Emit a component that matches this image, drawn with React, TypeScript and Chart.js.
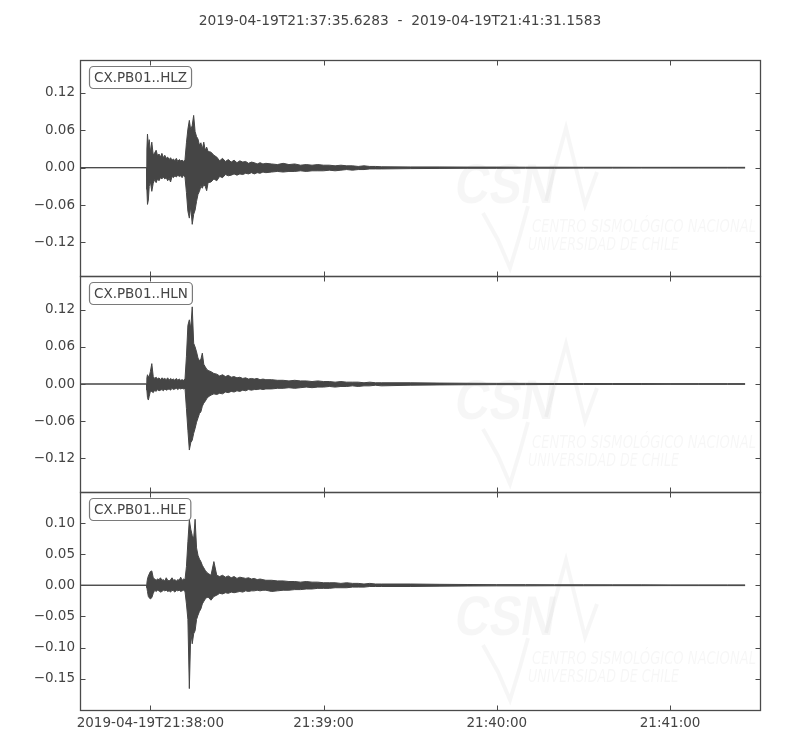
import React, { useEffect, useRef } from 'react';
import { Chart, registerables } from 'chart.js';

Chart.register(...registerables);

// ---------------- data ----------------
const TITLE = '2019-04-19T21:37:35.6283  -  2019-04-19T21:41:31.1583';
const CHANNELS = ['CX.PB01..HLZ', 'CX.PB01..HLN', 'CX.PB01..HLE'];

// time axis, seconds relative to 2019-04-19T21:38:00
const X_MIN = -24.37;
const X_MAX = 211.16;
const X_TICKS = [0, 60, 120, 180];
const X_TICK_LABELS = ['2019-04-19T21:38:00', '21:39:00', '21:40:00', '21:41:00'];

const Y_RANGE_Z = [-0.174, 0.173];
const Y_RANGE_N = [-0.175, 0.175];
const Y_RANGE_E = [-0.2004, 0.1498];
const Y_TICKS_Z = [-0.12, -0.06, 0, 0.06, 0.12];
const Y_TICKS_N = [-0.12, -0.06, 0, 0.06, 0.12];
const Y_TICKS_E = [-0.15, -0.1, -0.05, 0, 0.05, 0.1];

// envelope sample times (s after 21:38:00)
const T = [
  -24.37, -1.3, -1.2, -1.0, -0.7, -0.4,
  0, 0.5, 1, 1.5, 2, 2.5, 3, 3.5, 4, 4.5, 5, 5.5, 6, 6.5, 7, 7.5, 8, 8.5, 9, 9.5, 10, 10.5, 11, 11.5, 12,
  12.5, 13, 13.5, 14, 14.5, 15, 15.5, 16, 16.5, 17, 17.5, 18, 18.5, 19, 19.5, 20,
  21, 22, 23, 24, 25, 26, 27, 28, 29, 30, 31, 32, 33, 34, 35, 36, 37, 38, 39, 40,
  42, 44, 46, 48, 50, 52, 54, 56, 58, 60, 62, 64, 66, 68, 70, 72, 74, 76, 78, 80,
  90, 100, 110, 120, 130, 140, 150, 160, 170, 180, 190, 200,
  206,
];

// HLZ envelope (max / min)
const Z_HI = [
  0, 0, 0.030, 0.054, 0.035, 0.045,
  0.025, 0.041, 0.020, 0.024, 0.028, 0.019, 0.022, 0.017, 0.023, 0.016, 0.020, 0.015, 0.017, 0.013, 0.016, 0.012, 0.014, 0.011, 0.015, 0.010, 0.013, 0.011, 0.012, 0.010, 0.013,
  0.040, 0.062, 0.076, 0.060, 0.068, 0.084, 0.058, 0.050, 0.046, 0.036, 0.040, 0.030, 0.041, 0.028, 0.033, 0.026,
  0.025, 0.020, 0.017, 0.011, 0.015, 0.010, 0.013, 0.009, 0.012, 0.008, 0.011, 0.009, 0.010, 0.007, 0.009, 0.008, 0.006, 0.008, 0.006, 0.007,
  0.006, 0.005, 0.007, 0.005, 0.006, 0.004, 0.005, 0.004, 0.005, 0.004, 0.004, 0.003, 0.004, 0.003, 0.003, 0.002, 0.003, 0.002, 0.002, 0.0015,
  0.0012, 0.0012, 0.001, 0.001, 0.0008, 0.0008, 0.0007, 0.0007, 0.0006, 0.0006, 0.0006, 0.0006,
  0.0006,
];
const Z_LO = [
  0, 0, -0.035, -0.059, -0.052, -0.030,
  -0.022, -0.038, -0.025, -0.019, -0.024, -0.018, -0.021, -0.016, -0.018, -0.015, -0.018, -0.016, -0.021, -0.017, -0.023, -0.014, -0.016, -0.013, -0.015, -0.012, -0.014, -0.013, -0.016, -0.012, -0.015,
  -0.040, -0.070, -0.081, -0.062, -0.091, -0.075, -0.068, -0.054, -0.043, -0.038, -0.030, -0.033, -0.027, -0.030, -0.037, -0.024,
  -0.023, -0.018, -0.021, -0.014, -0.016, -0.011, -0.013, -0.012, -0.010, -0.012, -0.010, -0.011, -0.009, -0.010, -0.008, -0.010, -0.008, -0.009, -0.007, -0.008,
  -0.007, -0.006, -0.007, -0.006, -0.006, -0.005, -0.006, -0.005, -0.005, -0.005, -0.004, -0.005, -0.004, -0.003, -0.004, -0.003, -0.003, -0.002, -0.002, -0.002,
  -0.0015, -0.0012, -0.001, -0.001, -0.0008, -0.0008, -0.0007, -0.0007, -0.0006, -0.0006, -0.0006, -0.0006,
  -0.0006,
];

// HLN envelope
const N_HI = [
  0, 0, 0.010, 0.015, 0.012, 0.012,
  0.020, 0.033, 0.012, 0.009, 0.011, 0.008, 0.010, 0.007, 0.010, 0.008, 0.009, 0.007, 0.010, 0.006, 0.009, 0.007, 0.008, 0.006, 0.009, 0.006, 0.008, 0.006, 0.007, 0.006, 0.008,
  0.045, 0.095, 0.104, 0.090, 0.125, 0.066, 0.060, 0.052, 0.042, 0.038, 0.040, 0.050, 0.032, 0.028, 0.024, 0.022,
  0.020, 0.017, 0.016, 0.013, 0.015, 0.012, 0.014, 0.011, 0.012, 0.010, 0.011, 0.009, 0.010, 0.008, 0.009, 0.008, 0.009, 0.007, 0.008, 0.007,
  0.007, 0.006, 0.006, 0.005, 0.006, 0.005, 0.005, 0.004, 0.005, 0.004, 0.004, 0.003, 0.004, 0.003, 0.003, 0.003, 0.002, 0.003, 0.002, 0.002,
  0.002, 0.0015, 0.0012, 0.001, 0.001, 0.0008, 0.0008, 0.0007, 0.0007, 0.0006, 0.0006, 0.0006,
  0.0006,
];
const N_LO = [
  0, 0, -0.010, -0.022, -0.026, -0.020,
  -0.012, -0.012, -0.014, -0.010, -0.012, -0.009, -0.011, -0.010, -0.009, -0.011, -0.008, -0.010, -0.009, -0.008, -0.010, -0.007, -0.009, -0.008, -0.007, -0.009, -0.007, -0.008, -0.007, -0.008, -0.007,
  -0.040, -0.075, -0.107, -0.095, -0.091, -0.080, -0.072, -0.062, -0.055, -0.048, -0.045, -0.036, -0.031, -0.028, -0.024, -0.021,
  -0.018, -0.016, -0.017, -0.015, -0.016, -0.013, -0.014, -0.012, -0.013, -0.011, -0.012, -0.010, -0.011, -0.009, -0.010, -0.009, -0.009, -0.008, -0.009, -0.008,
  -0.008, -0.007, -0.007, -0.006, -0.007, -0.006, -0.005, -0.006, -0.005, -0.005, -0.004, -0.005, -0.004, -0.004, -0.003, -0.004, -0.003, -0.003, -0.002, -0.003,
  -0.002, -0.0015, -0.0012, -0.001, -0.001, -0.0008, -0.0008, -0.0007, -0.0007, -0.0006, -0.0006, -0.0006,
  -0.0006,
];

// HLE envelope
const E_HI = [
  0, 0, 0.004, 0.010, 0.015, 0.018,
  0.022, 0.023, 0.012, 0.010, 0.008, 0.010, 0.009, 0.012, 0.008, 0.009, 0.007, 0.012, 0.008, 0.007, 0.009, 0.012, 0.008, 0.009, 0.007, 0.009, 0.008, 0.013, 0.008, 0.010, 0.009,
  0.030, 0.070, 0.105, 0.090, 0.080, 0.075, 0.106, 0.060, 0.048, 0.042, 0.038, 0.032, 0.028, 0.024, 0.021, 0.019,
  0.016, 0.038, 0.016, 0.014, 0.016, 0.013, 0.015, 0.012, 0.014, 0.011, 0.013, 0.012, 0.011, 0.012, 0.010, 0.011, 0.009, 0.010, 0.009, 0.008,
  0.008, 0.007, 0.007, 0.006, 0.006, 0.005, 0.006, 0.005, 0.005, 0.004, 0.004, 0.004, 0.003, 0.004, 0.003, 0.003, 0.002, 0.003, 0.002, 0.002,
  0.002, 0.0015, 0.0012, 0.001, 0.001, 0.0008, 0.0008, 0.0007, 0.0007, 0.0006, 0.0006, 0.0006,
  0.0006,
];
const E_LO = [
  0, 0, -0.004, -0.010, -0.018, -0.020,
  -0.022, -0.020, -0.013, -0.008, -0.010, -0.008, -0.009, -0.011, -0.010, -0.008, -0.009, -0.008, -0.010, -0.009, -0.011, -0.008, -0.009, -0.011, -0.008, -0.009, -0.008, -0.010, -0.009, -0.008, -0.010,
  -0.030, -0.055, -0.166, -0.075, -0.094, -0.078, -0.073, -0.055, -0.048, -0.042, -0.038, -0.030, -0.026, -0.022, -0.020, -0.019,
  -0.024, -0.018, -0.016, -0.013, -0.014, -0.012, -0.013, -0.011, -0.012, -0.011, -0.010, -0.011, -0.009, -0.010, -0.009, -0.009, -0.008, -0.009, -0.008, -0.008,
  -0.010, -0.009, -0.008, -0.008, -0.007, -0.007, -0.006, -0.006, -0.005, -0.005, -0.005, -0.004, -0.004, -0.004, -0.003, -0.003, -0.003, -0.002, -0.002, -0.002,
  -0.002, -0.0015, -0.0012, -0.001, -0.001, -0.0008, -0.0008, -0.0007, -0.0007, -0.0006, -0.0006, -0.0006,
  -0.0006,
];

// ---------------- styling ----------------
const WAVE = '#454545';
const FRAME = '#4a4a4a';
const TEXT = '#444444';
const FONT_FAMILY = 'DejaVu Sans';

const fmtY = (v: number) => (v < 0 ? '\u2212' : '') + Math.abs(v).toFixed(2);

type PanelDef = {
  hi: number[];
  lo: number[];
  yRange: number[];
  yTicks: number[];
  label: string;
  top: number;
  height: number;
  padTop: number;
  padBottom: number;
  isFirst: boolean;
  isLast: boolean;
};

const PANELS: PanelDef[] = [
  { hi: Z_HI, lo: Z_LO, yRange: Y_RANGE_Z, yTicks: Y_TICKS_Z, label: CHANNELS[0], top: 0, height: 280, padTop: 60, padBottom: 4, isFirst: true, isLast: false },
  { hi: N_HI, lo: N_LO, yRange: Y_RANGE_N, yTicks: Y_TICKS_N, label: CHANNELS[1], top: 270, height: 230, padTop: 6, padBottom: 8, isFirst: false, isLast: false },
  { hi: E_HI, lo: E_LO, yRange: Y_RANGE_E, yTicks: Y_TICKS_E, label: CHANNELS[2], top: 486, height: 264, padTop: 6, padBottom: 0, isFirst: false, isLast: true },
];

function decorPlugin(p: PanelDef) {
  return {
    id: 'seisDecor',
    beforeDatasetsDraw(chart: any) {
      const { ctx, chartArea: a } = chart;
      const L = a.left;
      const Tp = a.top;
      ctx.save();
      ctx.beginPath();
      ctx.rect(a.left, a.top, a.right - a.left, a.bottom - a.top);
      ctx.clip();
      const wm = 'rgba(0,0,0,0.035)';
      ctx.fillStyle = wm;
      ctx.strokeStyle = wm;
      // CSN watermark
      ctx.save();
      ctx.translate(L + 373, Tp + 143);
      ctx.transform(0.85, 0, -0.15, 1, 0, 0);
      ctx.font = 'bold 56px "Liberation Sans"';
      ctx.textBaseline = 'alphabetic';
      ctx.fillText('CSN', 0, 0);
      ctx.restore();
      ctx.lineWidth = 4;
      ctx.lineJoin = 'miter';
      ctx.beginPath();
      ctx.moveTo(L + 466, Tp + 141);
      ctx.lineTo(L + 486, Tp + 68);
      ctx.lineTo(L + 505, Tp + 145);
      ctx.lineTo(L + 517, Tp + 112);
      ctx.stroke();
      ctx.beginPath();
      ctx.moveTo(L + 403, Tp + 153);
      ctx.lineTo(L + 418, Tp + 180);
      ctx.lineTo(L + 430, Tp + 208);
      ctx.lineTo(L + 440, Tp + 175);
      ctx.lineTo(L + 448, Tp + 146);
      ctx.stroke();
      ctx.font = 'italic 17px "DejaVu Sans"';
      ctx.fillText('CENTRO SISMOLÓGICO NACIONAL', L + 452, Tp + 172, 224);
      ctx.fillText('UNIVERSIDAD DE CHILE', L + 448, Tp + 190, 151);
      ctx.restore();
    },
    afterDraw(chart: any) {
      const { ctx, chartArea: a } = chart;
      const xs = chart.scales.x;
      const ys = chart.scales.y;
      ctx.save();
      const l = Math.round(a.left) + 0.5;
      const r = Math.round(a.right) + 0.5;
      const t = Math.round(a.top) + 0.5;
      const b = Math.round(a.bottom) + 0.5;
      ctx.strokeStyle = FRAME;
      ctx.lineWidth = 1;
      // inward ticks
      const TL = 5;
      ctx.beginPath();
      X_TICKS.forEach((v) => {
        const px = Math.round(xs.getPixelForValue(v)) + 0.5;
        ctx.moveTo(px, t);
        ctx.lineTo(px, t + TL);
        ctx.moveTo(px, b);
        ctx.lineTo(px, b - TL);
      });
      p.yTicks.forEach((v) => {
        const py = Math.round(ys.getPixelForValue(v)) + 0.5;
        ctx.moveTo(l, py);
        ctx.lineTo(l + TL, py);
        ctx.moveTo(r, py);
        ctx.lineTo(r - TL, py);
      });
      ctx.stroke();
      // frame
      ctx.lineWidth = 1.3;
      ctx.strokeRect(l, t, r - l, b - t);
      // channel label box
      ctx.font = `13.5px "${FONT_FAMILY}"`;
      const tw = ctx.measureText(p.label).width;
      const bx = Math.round(a.left) + 9.5;
      const by = Math.round(a.top) + 6.5;
      ctx.beginPath();
      ctx.roundRect(bx, by, tw + 9, 22, 4);
      ctx.fillStyle = '#ffffff';
      ctx.fill();
      ctx.strokeStyle = '#7a7a7a';
      ctx.lineWidth = 1.2;
      ctx.stroke();
      ctx.fillStyle = TEXT;
      ctx.textBaseline = 'middle';
      ctx.textAlign = 'left';
      ctx.fillText(p.label, bx + 4.5, by + 11.5);
      // title
      if (p.isFirst) {
        ctx.font = `13.8px "${FONT_FAMILY}"`;
        ctx.textAlign = 'center';
        ctx.fillText(TITLE, 400, 21);
      }
      ctx.restore();
    },
  };
}

function Panel({ p }: { p: PanelDef }) {
  const ref = useRef<HTMLCanvasElement | null>(null);
  useEffect(() => {
    if (!ref.current) return;
    const hiData = T.map((t, k) => ({ x: t, y: p.hi[k] }));
    const loData = T.map((t, k) => ({ x: t, y: p.lo[k] }));
    const chart = new Chart(ref.current, {
      type: 'line',
      data: {
        datasets: [
          { data: hiData, borderColor: WAVE, backgroundColor: WAVE, borderWidth: 1, pointRadius: 0, tension: 0, fill: false },
          { data: loData, borderColor: WAVE, backgroundColor: WAVE, borderWidth: 1, pointRadius: 0, tension: 0, fill: '-1' },
        ],
      },
      options: {
        responsive: false,
        animation: false,
        events: [],
        layout: { padding: { left: 0, right: 40, top: p.padTop, bottom: p.padBottom } },
        plugins: { legend: { display: false }, tooltip: { enabled: false }, title: { display: false } },
        scales: {
          x: {
            type: 'linear',
            min: X_MIN,
            max: X_MAX,
            afterBuildTicks: (s: any) => {
              s.ticks = X_TICKS.map((v) => ({ value: v }));
            },
            afterFit: (s: any) => {
              s.height = p.isLast ? 40 : 0;
              s.paddingLeft = 0;
              s.paddingRight = 0;
            },
            ticks: {
              display: p.isLast,
              autoSkip: false,
              maxRotation: 0,
              padding: 5,
              color: TEXT,
              font: { family: FONT_FAMILY, size: 13.5 },
              callback: (v: any) => {
                const i = X_TICKS.indexOf(Number(v));
                return i >= 0 ? X_TICK_LABELS[i] : '';
              },
            },
            grid: { display: false, drawTicks: false },
            border: { display: false },
          },
          y: {
            type: 'linear',
            min: p.yRange[0],
            max: p.yRange[1],
            afterBuildTicks: (s: any) => {
              s.ticks = p.yTicks.map((v) => ({ value: v }));
            },
            afterFit: (s: any) => {
              s.width = 80;
              s.paddingTop = 0;
              s.paddingBottom = 0;
            },
            ticks: {
              autoSkip: false,
              padding: 5,
              color: TEXT,
              font: { family: FONT_FAMILY, size: 13.5 },
              callback: (v: any) => fmtY(Number(v)),
            },
            grid: { display: false, drawTicks: false },
            border: { display: false },
          },
        },
      },
      plugins: [decorPlugin(p)],
    } as any);
    return () => chart.destroy();
  }, [p]);
  return (
    <canvas
      ref={ref}
      width={800}
      height={p.height}
      style={{ position: 'absolute', left: 0, top: p.top, width: 800, height: p.height }}
    />
  );
}

export default function App() {
  return (
    <div style={{ position: 'absolute', left: 0, top: 0, width: 800, height: 750, background: '#ffffff' }}>
      {PANELS.map((p, i) => (
        <Panel key={i} p={p} />
      ))}
    </div>
  );
}
